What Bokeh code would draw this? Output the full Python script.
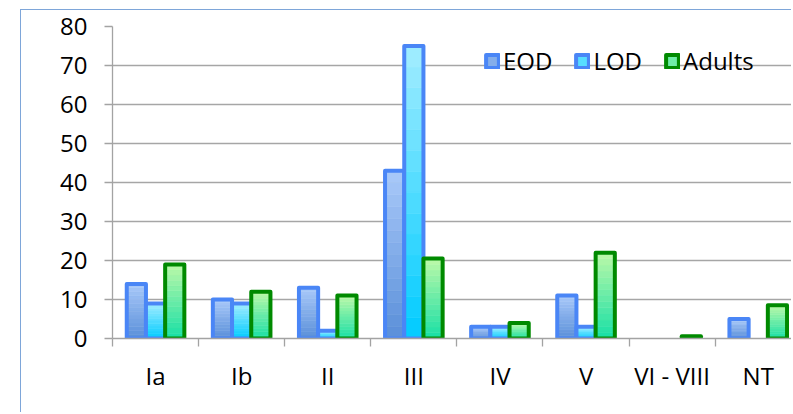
from bokeh.plotting import figure
from bokeh.models import Range1d, FixedTicker, Legend, LegendItem, ColumnDataSource
from bokeh.embed import file_html
from bokeh.resources import INLINE

categories = ["Ia", "Ib", "II", "III", "IV", "V", "VI - VIII", "NT"]
eod = [14, 10, 13, 43, 3, 11, 0, 5]
lod = [9, 9, 2, 75, 3, 3, 0, 0]
adults = [19, 12, 11, 20.5, 4, 22, 0.6, 8.5]
y_ticks = [0, 10, 20, 30, 40, 50, 60, 70, 80]

FONT = "Open Sans"
FSIZE = "24px"
BAR_W = 0.223
N_STRIPS = 14

series = [
    ("EOD", eod, -BAR_W, "#a9c9f9", "#5a8fd9", "#4a86f6"),
    ("LOD", lod, 0.0, "#a3edff", "#00cbff", "#4a86f6"),
    ("Adults", adults, BAR_W, "#bdf9a8", "#16dfa6", "#008a00"),
]

p = figure(width=771, height=403,
           x_range=Range1d(0, 7.898), y_range=Range1d(0, 80),
           output_backend="svg", toolbar_location=None,
           min_border_left=91, min_border_right=0,
           min_border_top=16, min_border_bottom=75)
p.margin = (9, 0, 0, 20)
p.styles = {"border-left": "1.5px solid #7ea6d9", "border-top": "1.5px solid #7ea6d9"}
p.outline_line_color = None
p.background_fill_color = "white"
p.border_fill_color = "white"


def hex2rgb(h):
    h = h.lstrip("#")
    return tuple(int(h[i:i + 2], 16) for i in (0, 2, 4))


def lerp(c1, c2, t):
    a, b = hex2rgb(c1), hex2rgb(c2)
    return "#%02x%02x%02x" % tuple(int(round(a[i] + (b[i] - a[i]) * t)) for i in range(3))


# slice order: a middle slice first so the legend swatch (index 0) shows a mid tone
k_order = [N_STRIPS // 2] + [k for k in range(N_STRIPS) if k != N_STRIPS // 2]

items = []
for name, vals, off, ctop, cbot, line in series:
    xs = [i + 0.5 + off for i in range(len(categories))]
    # gradient fill: stack of thin slices per bar
    sx, sb, st, sc = [], [], [], []
    for k in k_order:
        for x, v in zip(xs, vals):
            if v <= 0:
                continue
            sx.append(x)
            sb.append(v * k / N_STRIPS)
            st.append(v * (k + 1) / N_STRIPS)
            sc.append(lerp(cbot, ctop, (k + 0.5) / N_STRIPS))
    src = ColumnDataSource(dict(x=sx, bottom=sb, top=st, color=sc))
    r_fill = p.vbar(x="x", bottom="bottom", top="top", width=BAR_W, source=src,
                    fill_color="color", line_color="color", line_width=0.6)
    # outline of each bar (hidden for zero values)
    lc = [line if v > 0 else "rgba(0,0,0,0)" for v in vals]
    osrc = ColumnDataSource(dict(x=xs, top=vals, lc=lc))
    r_line = p.vbar(x="x", top="top", bottom=0, width=BAR_W, source=osrc, fill_color=None,
                    line_color="lc", line_width=4, line_join="round")
    items.append(LegendItem(label=name, renderers=[r_fill, r_line], index=0))

legend = Legend(items=items, orientation="horizontal", location=(372, 261),
                padding=6, margin=0, spacing=22, label_standoff=3,
                glyph_width=16, glyph_height=16, label_height=16,
                border_line_color=None, background_fill_alpha=0,
                label_text_font=FONT, label_text_font_size=FSIZE,
                label_text_color="black")
p.add_layout(legend)

# y axis
p.yaxis.ticker = FixedTicker(ticks=y_ticks)
p.yaxis.axis_line_color = "#a3a3a3"
p.yaxis.axis_line_width = 1.3
p.yaxis.major_tick_line_color = "#a3a3a3"
p.yaxis.major_tick_line_width = 1.3
p.yaxis.major_tick_out = 8
p.yaxis.major_tick_in = 0
p.yaxis.minor_tick_line_color = None
p.yaxis.major_label_standoff = 17
p.yaxis.major_label_text_font = FONT
p.yaxis.major_label_text_font_size = FSIZE
p.yaxis.major_label_text_color = "black"

# x axis: labels at category centres, tick marks at boundaries (minor ticks)
centers = [i + 0.5 for i in range(len(categories))]
bounds = list(range(len(categories) + 1))
p.xaxis.ticker = FixedTicker(ticks=centers, minor_ticks=bounds)
p.xaxis.major_label_overrides = {c: lab for c, lab in zip(centers, categories)}
p.xaxis.axis_line_color = "#a3a3a3"
p.xaxis.axis_line_width = 1.3
p.xaxis.major_tick_line_color = None
p.xaxis.major_tick_out = 0
p.xaxis.major_tick_in = 0
p.xaxis.minor_tick_line_color = "#a3a3a3"
p.xaxis.minor_tick_line_width = 1.3
p.xaxis.minor_tick_out = 8
p.xaxis.minor_tick_in = 0
p.xaxis.major_label_standoff = 12
p.xaxis.major_label_text_font = FONT
p.xaxis.major_label_text_font_size = FSIZE
p.xaxis.major_label_text_color = "black"

p.xgrid.grid_line_color = None
p.ygrid.ticker = FixedTicker(ticks=y_ticks)
p.ygrid.grid_line_color = "#a6a6a6"
p.ygrid.grid_line_width = 1.3

open("out.html", "w").write(file_html(p, INLINE))
